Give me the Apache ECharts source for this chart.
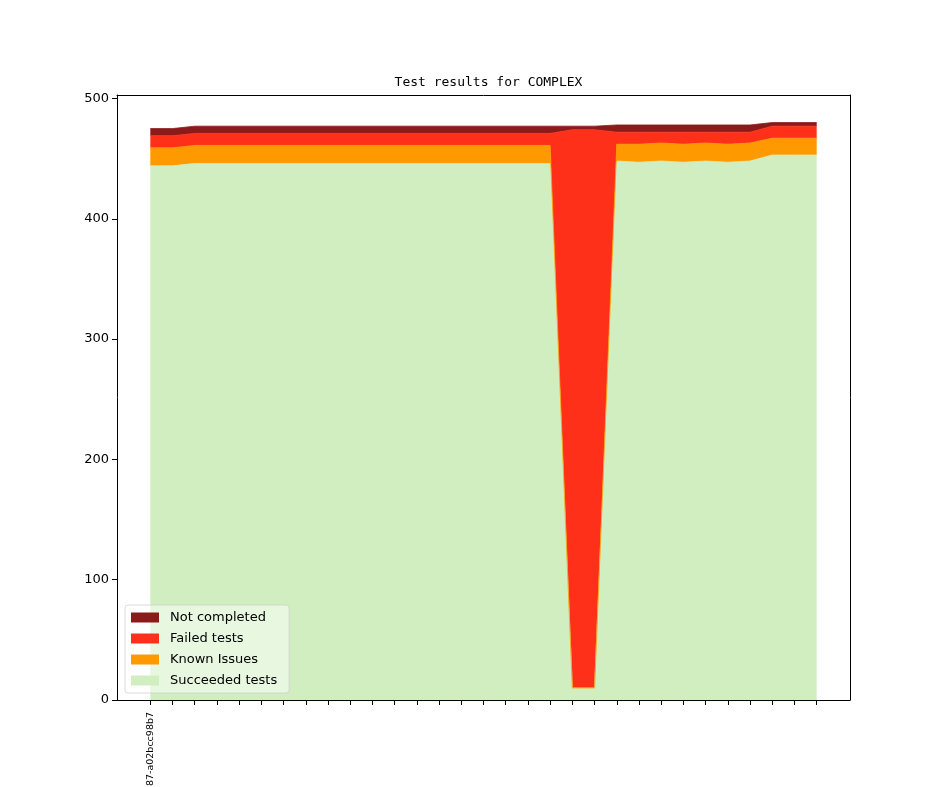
<!DOCTYPE html>
<html>
<head>
<meta charset="utf-8">
<script src="https://cdn.jsdelivr.net/npm/echarts@6/dist/echarts.min.js"></script>
<style>html,body{margin:0;padding:0;background:#fff}#c{width:944px;height:787px}</style>
</head>
<body>
<div id="c"></div>
<script>
// x categories (31 builds); only the first carries a visible label in the reference
var xLabels = ["87-a02bcc98b7","","","","","","","","","","","","","","","","","","","","","","","","","","","","","",""];
var yTicks = [0, 100, 200, 300, 400, 500];

var succeeded    = [444,444,446,446,446,446,446,446,446,446,446,446,446,446,446,446,446,446,446,10,10,448,447,448,447,448,447,448,453,453,453];
var knownIssues  = [15,15,15,15,15,15,15,15,15,15,15,15,15,15,15,15,15,15,15,0,0,14,15,15,15,15,15,15,14,14,14];
var failedTests  = [10,10,10,10,10,10,10,10,10,10,10,10,10,10,10,10,10,10,10,464,464,10,10,9,10,9,10,9,10,10,10];
var notCompleted = [6,6,6,6,6,6,6,6,6,6,6,6,6,6,6,6,6,6,6,3,3,6,6,6,6,6,6,6,3,3,3];

// [value, categoryIndex] so that the value dimension is the stacked one
function pairs(arr){ return arr.map(function(v,i){ return [v, i]; }); }
var idx = xLabels.map(function(_, i){ return i; });

var font = 'DejaVu Sans';
function mk(name, data, color){
  return {
    name: name, type: 'line', stack: 'total', data: pairs(data),
    encode: {x: 1, y: 0}, xAxisIndex: 0, yAxisIndex: 0,
    symbol: 'none', showSymbol: false, smooth: false,
    lineStyle: {width: 0.8, color: color},
    areaStyle: {color: color, opacity: 1},
    itemStyle: {color: color},
    emphasis: {disabled: true},
    animation: false
  };
}
var spine = {show: true, onZero: false, lineStyle: {color: '#000', width: 1}};
function frameAxis(pos){
  return {type: 'value', position: pos, min: 0, max: 1, z: 5,
    axisLine: spine, axisTick: {show: false}, axisLabel: {show: false}, splitLine: {show: false}};
}

var chart = echarts.init(document.getElementById('c'), null, {renderer: 'canvas'});
chart.setOption({
  animation: false,
  backgroundColor: '#fff',
  title: {
    text: 'Test results for COMPLEX',
    left: 483.5, top: 71, textAlign: 'center',
    textStyle: {fontFamily: 'DejaVu Sans Mono', fontSize: 13, fontWeight: 'normal', color: '#000'}
  },
  grid: {left: 117, right: 94, top: 95, bottom: 87, show: false, containLabel: false, outerBoundsMode: 'none'},
  xAxis: [{
    type: 'value', position: 'bottom', min: -1.5, max: 31.5, z: 5,
    splitLine: {show: false},
    axisLine: spine,
    axisTick: {show: true, length: 5, inside: false, lineStyle: {color: '#000'}, customValues: idx},
    axisLabel: {
      show: true, rotate: 90, margin: 12, customValues: [0],
      fontFamily: font, fontSize: 9.5, color: '#000',
      formatter: function(v){ return xLabels[Math.round(v)] || ''; }
    }
  }, frameAxis('top')],
  yAxis: [{
    type: 'value', position: 'left', min: 0, max: 502.9, z: 5,
    splitLine: {show: false},
    axisLine: spine,
    axisTick: {show: true, length: 5, inside: false, lineStyle: {color: '#000'}, customValues: yTicks},
    axisLabel: {show: true, margin: 8, customValues: yTicks, fontFamily: font, fontSize: 13, color: '#000'}
  }, frameAxis('right')],
  legend: {
    orient: 'vertical', left: 125, top: 605, z: 6,
    data: ['Not completed', 'Failed tests', 'Known Issues', 'Succeeded tests'],
    icon: 'rect', itemWidth: 28, itemHeight: 10, itemGap: 6,
    backgroundColor: 'rgba(255,255,255,0.5)', borderColor: 'rgba(204,204,204,0.7)', borderWidth: 1, borderRadius: 3,
    padding: [5, 12, 5, 6],
    selectedMode: false,
    textStyle: {fontFamily: font, fontSize: 13, color: '#000', lineHeight: 15, padding: [0, 0, 0, 6]}
  },
  series: [
    mk('Succeeded tests', succeeded, '#d0eec0'),
    mk('Known Issues', knownIssues, '#ff9900'),
    mk('Failed tests', failedTests, '#ff3019'),
    mk('Not completed', notCompleted, '#8b1a1a')
  ]
});
</script>
</body>
</html>
